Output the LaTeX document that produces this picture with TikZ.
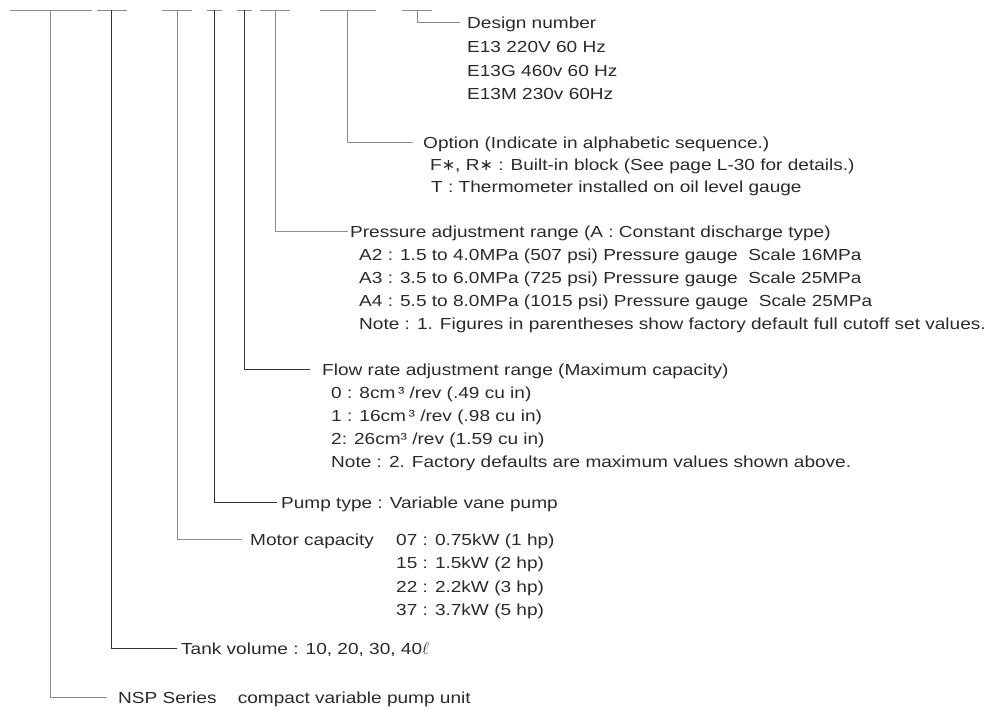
\documentclass[tikz,border=0pt]{standalone}
\usepackage{fontspec}
\setmainfont[FakeStretch=1.19]{Liberation Sans}
\newfontfamily\djv{DejaVu Sans}
\definecolor{lg}{HTML}{8C8C8C}
\definecolor{ld}{HTML}{333333}
\definecolor{tx}{HTML}{2A2A2A}
\begin{document}
\begin{tikzpicture}[x=1pt,y=-1pt,
  lbl/.style={anchor=base west, inner sep=0pt, text=tx, font=\fontsize{16}{19}\selectfont},
  barline/.style={draw=lg, line width=1pt},
  lineG/.style={draw=lg, line width=1pt},
  lineD/.style={draw=ld, line width=1pt}]
\useasboundingbox (0,0) rectangle (987,710);
% top bars
\coordinate (b1l) at (10,10);  \coordinate (b1r) at (92,10);  \coordinate (t1) at (50,10);
\coordinate (b2l) at (97,10);  \coordinate (b2r) at (127,10); \coordinate (t2) at (111,10);
\coordinate (b3l) at (162,10); \coordinate (b3r) at (192,10); \coordinate (t3) at (177,10);
\coordinate (b4l) at (207,10); \coordinate (b4r) at (222,10); \coordinate (t4) at (214,10);
\coordinate (b5l) at (237,10); \coordinate (b5r) at (252,10); \coordinate (t5) at (244,10);
\coordinate (b6l) at (260,10); \coordinate (b6r) at (290,10); \coordinate (t6) at (275,10);
\coordinate (b7l) at (320,10); \coordinate (b7r) at (376,10); \coordinate (t7) at (347,10);
\coordinate (b8l) at (402,10); \coordinate (b8r) at (432,10); \coordinate (t8) at (417,10);
\foreach \i in {1,...,8} \draw[barline] (b\i l) -- (b\i r);
% labels
\node[lbl] (des) at (467,28) {Design number};
\node[lbl] (d1) at (467,52) {E13 220V 60 Hz};
\node[lbl] (d2) at (467,76) {E13G 460v 60 Hz};
\node[lbl] (d3) at (467,99) {E13M 230v 60Hz};
\node[lbl] (opt) at (423,148) {Option (Indicate in alphabetic sequence.)};
\node[lbl] (o1) at (430,170) {F{\djv ∗}, R{\djv ∗} : Built-in block (See page L-30 for details.)};
\node[lbl] (o2) at (431,192) {T : Thermometer installed on oil level gauge};
\node[lbl] (pres) at (350,237) {Pressure adjustment range (A : Constant discharge type)};
\node[lbl] (p1) at (359,260) {A2 : 1.5 to 4.0MPa (507 psi) Pressure gauge\ \ Scale 16MPa};
\node[lbl] (p2) at (359,283) {A3 : 3.5 to 6.0MPa (725 psi) Pressure gauge\ \ Scale 25MPa};
\node[lbl] (p3) at (359,306) {A4 : 5.5 to 8.0MPa (1015 psi) Pressure gauge\ \ Scale 25MPa};
\node[lbl] (p4) at (359,329) {Note : 1. Figures in parentheses show factory default full cutoff set values.};
\node[lbl] (flow) at (322,375) {Flow rate adjustment range (Maximum capacity)};
\node[lbl] (f1) at (331,398) {0 : 8cm\,³ /rev (.49 cu in)};
\node[lbl] (f2) at (331,421) {1 : 16cm\,³ /rev (.98 cu in)};
\node[lbl] (f3) at (331,444) {2: 26cm³ /rev (1.59 cu in)};
\node[lbl] (f4) at (331,467) {Note : 2. Factory defaults are maximum values shown above.};
\node[lbl] (pump) at (281,508) {Pump type : Variable vane pump};
\node[lbl] (motor) at (250,545) {Motor capacity};
\node[lbl] (m1) at (396,545) {07 : 0.75kW (1 hp)};
\node[lbl] (m2) at (396,568.5) {15 : 1.5kW (2 hp)};
\node[lbl] (m3) at (396,592) {22 : 2.2kW (3 hp)};
\node[lbl] (m4) at (396,615.5) {37 : 3.7kW (5 hp)};
\node[lbl] (tank) at (181,654) {Tank volume : 10, 20, 30, 40$\ell$};
\node[lbl] (nsp) at (118,703) {NSP Series\quad\ compact variable pump unit};
% connectors
\draw[lineG] (t1) |- ([shift={(-11,-6)}]nsp.base west);
\draw[lineD] (t2) |- ([shift={(-4,-6)}]tank.base west);
\draw[lineG] (t3) |- ([shift={(-8,-6)}]motor.base west);
\draw[lineD] (t4) |- ([shift={(-4,-6)}]pump.base west);
\draw[lineD] (t5) |- ([shift={(-12,-6)}]flow.base west);
\draw[lineG] (t6) |- ([shift={(-2,-6)}]pres.base west);
\draw[lineG] (t7) |- ([shift={(-10,-6)}]opt.base west);
\draw[lineG] (t8) |- ([shift={(-7,-6)}]des.base west);
\end{tikzpicture}
\end{document}
